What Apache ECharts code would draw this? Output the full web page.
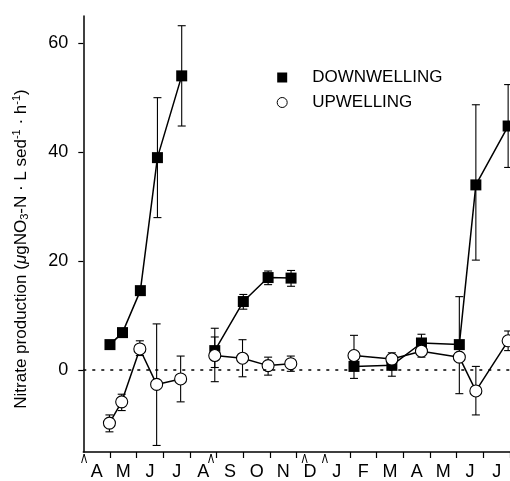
<!DOCTYPE html>
<html>
<head>
<meta charset="utf-8">
<script src="https://cdn.jsdelivr.net/npm/echarts@6/dist/echarts.min.js"></script>
<style>
  html, body { margin: 0; padding: 0; background: #fff; }
  #chart { width: 510px; height: 481px; }
</style>
</head>
<body>
<div id="chart"></div>
<script>
  // month letters, one per month slot (slot i spans [i, i+1])
  const months = ["A", "M", "J", "J", "A", "S", "O", "N", "D", "J", "F", "M", "A", "M", "J", "J"]
  const tickMonths = [1, 2, 3, 4, 5, 6, 7, 8, 10, 11, 12, 13, 14, 15, 16]
  const breakMonths = [0.03, 4.79, 8.3, 9.06]
  const yTicks = [0, 20, 40, 60]
  const yMin = -15
  const yMax = 65

  // null = gap between sampling periods
  const downX = [1.0, 1.47, 2.14, 2.78, 3.69, null, 4.93, 6.0, 6.93, 7.79, null, 10.15, 11.57, 12.68, 14.1, 14.72, 15.93]
  const downY = [4.7, 6.9, 14.6, 39.0, 54.0, null, 3.6, 12.6, 17.0, 16.9, null, 0.7, 0.9, 5.0, 4.7, 34.0, 44.8]
  const downLo = [null, null, null, 28.0, 44.8, null, 0.5, 11.2, 15.7, 15.4, null, -1.5, -1.1, 3.6, -4.3, 20.2, 37.2]
  const downHi = [null, null, null, 50.0, 63.2, null, 7.7, 13.9, 18.2, 18.3, null, 2.9, 2.6, 6.6, 13.5, 48.7, 52.4]

  const upX = [0.98, 1.44, 2.12, 2.75, 3.65, null, 4.93, 5.97, 6.93, 7.78, null, 10.15, 11.57, 12.68, 14.1, 14.72, 15.93]
  const upY = [-9.7, -5.8, 3.9, -2.6, -1.6, null, 2.7, 2.2, 0.85, 1.2, null, 2.7, 2.05, 3.5, 2.4, -3.8, 5.4]
  const upLo = [-11.3, -7.4, 2.7, -13.8, -5.8, null, -2.1, -1.2, -0.9, -0.2, null, 0.5, 0.8, 2.4, null, -8.2, 3.6]
  const upHi = [-8.2, -4.4, 5.4, 8.5, 2.6, null, 6.1, 5.6, 2.4, 2.6, null, 6.4, 3.2, 4.8, null, 0.7, 7.2]

  const FONT = "'Liberation Sans', Arial, sans-serif"

  function lineData(xs, ys) {
    return xs.map((x, i) => (x == null ? ["-", "-"] : [x, ys[i]]))
  }
  function errData(xs, lo, hi) {
    const out = []
    xs.forEach((x, i) => {
      if (x != null && lo[i] != null) out.push([x, lo[i], hi[i]])
    })
    return out
  }

  function renderErr(params, api) {
    const x = api.value(0)
    const bot = api.coord([x, api.value(1)])
    const top = api.coord([x, api.value(2)])
    const w = 4
    const style = { stroke: "#000", lineWidth: 1.1 }
    return {
      type: "group",
      children: [
        { type: "line", shape: { x1: top[0], y1: top[1], x2: bot[0], y2: bot[1] }, style },
        { type: "line", shape: { x1: top[0] - w, y1: top[1], x2: top[0] + w, y2: top[1] }, style },
        { type: "line", shape: { x1: bot[0] - w, y1: bot[1], x2: bot[0] + w, y2: bot[1] }, style },
      ],
    }
  }

  function renderBreak(params, api) {
    const p = api.coord([api.value(0), yMin])
    return {
      type: "polyline",
      shape: { points: [[p[0] - 2.5, p[1] + 11], [p[0], p[1] + 2], [p[0] + 2.5, p[1] + 11]] },
      style: { stroke: "#000", lineWidth: 1, fill: null },
    }
  }

  const chart = echarts.init(document.getElementById("chart"))
  const option = {
    backgroundColor: "#fff",
    animation: false,
    grid: { left: 83.3, right: -2.1, top: 15.9, bottom: 26.5 },
    legend: {
      orient: "vertical",
      left: 271.7,
      top: 64,
      itemWidth: 10,
      itemHeight: 10,
      itemGap: 8,
      textStyle: { fontSize: 17, color: "#000", fontFamily: FONT, padding: [2, 0, 0, 20] },
      data: [
        { name: "DOWNWELLING", icon: "rect", itemStyle: { color: "#000", borderWidth: 0 } },
        { name: "UPWELLING", icon: "circle", itemStyle: { color: "#fff", borderColor: "#000", borderWidth: 1 } },
      ],
    },
    xAxis: {
      type: "value",
      min: 0,
      max: months.length,
      splitLine: { show: false },
      axisLine: { onZero: false, lineStyle: { color: "#000", width: 1.5 } },
      axisTick: { show: true, length: 6, customValues: tickMonths, lineStyle: { color: "#000", width: 1.2 } },
      axisLabel: {
        customValues: months.map((m, i) => i + 0.5),
        formatter: (v) => months[Math.floor(v)],
        color: "#000",
        fontSize: 18,
        fontFamily: FONT,
        margin: 11,
      },
    },
    yAxis: {
      type: "value",
      min: yMin,
      max: yMax,
      splitLine: { show: false },
      axisLine: { onZero: false, lineStyle: { color: "#000", width: 1.5 } },
      axisTick: { show: true, length: 5, customValues: yTicks, lineStyle: { color: "#000", width: 1.2 } },
      axisLabel: { customValues: yTicks, color: "#000", fontSize: 18, fontFamily: FONT, margin: 15 },
    },
    graphic: [
      {
        type: "text",
        x: 21,
        y: 249,
        rotation: Math.PI / 2,
        style: {
          text: "Nitrate production ({mu|μ}gNO{sub|3}-N · L sed{sup|-1} · h{sup|-1})",
          font: "17px " + FONT,
          fill: "#000",
          align: "center",
          verticalAlign: "middle",
          rich: {
            mu: { fontSize: 17, fontStyle: "italic", fontFamily: FONT, lineHeight: 19 },
            sub: { fontSize: 11, fontFamily: FONT, lineHeight: 11, verticalAlign: "bottom" },
            sup: { fontSize: 11, fontFamily: FONT, lineHeight: 11, verticalAlign: "top" },
          },
        },
      },
    ],
    series: [
      {
        type: "custom",
        renderItem: renderErr,
        data: errData(downX, downLo, downHi),
        encode: { x: 0, y: [1, 2] },
        z: 1,
        silent: true,
      },
      {
        type: "custom",
        renderItem: renderErr,
        data: errData(upX, upLo, upHi),
        encode: { x: 0, y: [1, 2] },
        z: 1,
        silent: true,
      },
      {
        type: "custom",
        renderItem: renderBreak,
        data: breakMonths.map((b) => [b]),
        encode: { x: 0 },
        clip: false,
        z: 5,
        silent: true,
      },
      {
        name: "DOWNWELLING",
        type: "line",
        data: lineData(downX, downY),
        symbol: "rect",
        symbolSize: 11,
        connectNulls: false,
        lineStyle: { color: "#000", width: 1.5 },
        itemStyle: { color: "#000" },
        z: 3,
        markLine: {
          silent: true,
          symbol: ["none", "none"],
          label: { show: false },
          lineStyle: { color: "#000", type: [3, 6], width: 1.6 },
          data: [{ yAxis: 0 }],
        },
      },
      {
        name: "UPWELLING",
        type: "line",
        data: lineData(upX, upY),
        symbol: "circle",
        symbolSize: 12,
        connectNulls: false,
        lineStyle: { color: "#000", width: 1.5 },
        itemStyle: { color: "#fff", borderColor: "#000", borderWidth: 1.1 },
        z: 3,
      },
    ],
  }
  chart.setOption(option)
</script>
</body>
</html>
